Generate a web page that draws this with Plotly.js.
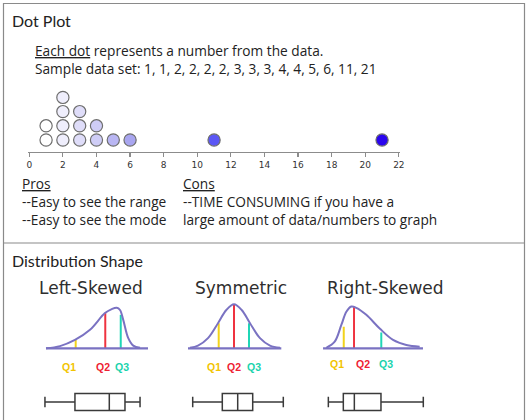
<!DOCTYPE html>
<html>
<head>
<meta charset="utf-8">
<script src="https://cdn.plot.ly/plotly-3.0.1.min.js"></script>
<style>html,body{margin:0;padding:0;background:#fff;}#chart{width:527px;height:420px;}</style>
</head>
<body>
<div id="chart"></div>
<script>
// ---------- Dot plot data ----------
const sampleData = [1, 1, 2, 2, 2, 2, 3, 3, 3, 4, 4, 5, 6, 11, 21];
const dotTickVals = [0, 2, 4, 6, 8, 10, 12, 14, 16, 18, 20, 22];
const dotTickText = ['0', '2', '4', '6', '8', '10', '12', '14', '16', '18', '20', '22'];

// ---------- Distribution shapes (conceptual curves) ----------
const panelNames = ['Left-Skewed', 'Symmetric', 'Right-Skewed'];
const quartileNames = ['Q1', 'Q2', 'Q3'];

const leftCurveX = [1.9, 15.1, 29.2, 43.4, 57.5, 63.9, 68.6, 71.7, 74.8, 79.5, 84.2, 90.6];
const leftCurveY = [0.0, 0.05, 0.19, 0.42, 0.80, 0.89, 0.92, 0.87, 0.64, 0.23, 0.06, 0.01];
const symCurveX = [4, 12, 22, 32, 40.3, 48, 55.7, 64, 74, 84, 94];
const symCurveY = [0.01, 0.06, 0.23, 0.57, 0.87, 1.0, 0.87, 0.57, 0.23, 0.06, 0.01];
const rightCurveX = [4.1, 12.2, 18.6, 23.4, 28.2, 33, 42.6, 55.5, 68.3, 81.1, 93.9];
const rightCurveY = [0.01, 0.15, 0.53, 0.83, 0.95, 0.92, 0.76, 0.45, 0.19, 0.075, 0.036];

const leftBaseline = [1.9, 98.1];
const symBaseline = [2, 95.3];
const rightBaseline = [1, 97.1];

// quartile line positions and heights
const leftQ = [29.9, 57.8, 72.4];
const leftQHeight = [0.19, 0.80, 0.76];
const symQ = [32.7, 48, 63];
const symQHeight = [0.57, 1.0, 0.57];
const rightQ = [20.9, 30.8, 57];
const rightQHeight = [0.49, 0.95, 0.36];

// box plots: [lower whisker, Q1, median, Q3, upper whisker]
const leftBox = [0.9, 29.2, 61.6, 76.4, 90.6];
const symBox = [6.7, 36.3, 51.7, 66.7, 97.3];
const rightBox = [6.1, 20.5, 31.1, 56.7, 97.4];

// ---------- styles / layout helpers ----------
const W = 527, H = 420;
const px = v => v / W;
const py = v => 1 - v / H;
const FONT = '"Open Sans", Lato, sans-serif';
const TITLEFONT = 'Lato, "Open Sans", sans-serif';
const curveColor = '#7a72c2';
const qColors = ['#f2d31b', '#ef3340', '#1fd6b6'];
const qTextColors = ['#f2c400', '#ee2233', '#19d3ad'];

const traces = [];

// Dot plot: stack counts
const counts = {};
const dotX = [], dotY = [];
sampleData.forEach(v => {
  counts[v] = (counts[v] || 0) + 1;
  dotX.push(v);
  dotY.push(counts[v]);
});
traces.push({
  type: 'scatter', mode: 'markers', x: dotX, y: dotY,
  xaxis: 'x', yaxis: 'y', hoverinfo: 'skip',
  marker: {
    size: 12.2, color: dotX, cmin: 1, cmax: 21,
    colorscale: [[0, '#ffffff'], [0.05, '#efeefc'], [0.1, '#dfddf9'], [0.15, '#cfcdf6'],
                 [0.2, '#b9b6f3'], [0.25, '#a9a6f0'], [0.5, '#5b57f5'], [1, '#2a05ee']],
    showscale: false,
    line: {color: '#6e6e6e', width: 1.2}
  }
});

const panels = [
  {cx: leftCurveX, cy: leftCurveY, base: leftBaseline, q: leftQ, qh: leftQHeight, box: leftBox, ax: 'x2'},
  {cx: symCurveX, cy: symCurveY, base: symBaseline, q: symQ, qh: symQHeight, box: symBox, ax: 'x3'},
  {cx: rightCurveX, cy: rightCurveY, base: rightBaseline, q: rightQ, qh: rightQHeight, box: rightBox, ax: 'x4'}
];

const boxY = -1.22;
panels.forEach(p => {
  p.q.forEach((qx, i) => {
    traces.push({type: 'scatter', mode: 'lines', x: [qx, qx], y: [0, p.qh[i]],
      xaxis: p.ax, yaxis: 'y2', hoverinfo: 'skip',
      line: {color: qColors[i], width: 2}});
  });
  traces.push({type: 'scatter', mode: 'lines', x: p.base, y: [0, 0],
    xaxis: p.ax, yaxis: 'y2', hoverinfo: 'skip', line: {color: curveColor, width: 2.2}});
  traces.push({type: 'scatter', mode: 'lines', x: p.cx, y: p.cy,
    xaxis: p.ax, yaxis: 'y2', hoverinfo: 'skip',
    line: {color: curveColor, width: 2, shape: 'spline', smoothing: 1}});
  traces.push({type: 'box', orientation: 'h', xaxis: p.ax, yaxis: 'y2',
    y: [boxY], lowerfence: [p.box[0]], q1: [p.box[1]], median: [p.box[2]],
    q3: [p.box[3]], upperfence: [p.box[4]],
    width: 0.39, whiskerwidth: 0.62, boxpoints: false, hoverinfo: 'skip',
    fillcolor: 'rgba(255,255,255,0)', line: {color: '#3a3a3a', width: 1.5}});
});

// ---------- annotations ----------
const ann = [];
function txt(text, x, y, size, family) {
  ann.push({text: text, x: px(x), y: py(y), xref: 'paper', yref: 'paper',
    xanchor: 'left', yanchor: 'middle', align: 'left', showarrow: false,
    borderpad: 0, borderwidth: 0,
    font: {family: family || FONT, size: size, color: '#222'}});
}
const BODY = 13.7;
txt('Dot Plot', 12, 20.5, 16, TITLEFONT);
txt('<u>Each dot</u> represents a number from the data.<br>' +
    'Sample data set: ' + sampleData.join(', '), 35, 60, BODY);
txt('<u>Pros</u><br>--Easy to see the range<br>--Easy to see the mode', 21.5, 201.8, BODY);
txt('<u>Cons</u><br>--TIME CONSUMING if you have a<br>large amount of data/numbers to graph', 182.5, 201.8, BODY);
txt('Distribution Shape', 12, 260.7, 16, TITLEFONT);

const titleCenters = [90.8, 241, 385];
panelNames.forEach((n, i) => {
  ann.push({text: n, x: px(titleCenters[i]), y: py(287.5), xref: 'paper', yref: 'paper',
    xanchor: 'center', yanchor: 'middle', showarrow: false,
    font: {family: 'DejaVu Sans, sans-serif', size: 17, color: '#2e2e2e'}});
});

const qLabelX = [[23.9, 55.9, 73.9], [28.3, 48.3, 68], [14.1, 39.7, 61.5]];
const qLabelY = [-0.43, -0.43, -0.36];
const axNames = ['x2', 'x3', 'x4'];
qLabelX.forEach((row, pi) => {
  row.forEach((x, i) => {
    ann.push({text: '<b>' + quartileNames[i] + '</b>', x: x, y: qLabelY[pi],
      xref: axNames[pi], yref: 'y2', xanchor: 'center', yanchor: 'middle', showarrow: false,
      font: {family: 'Liberation Sans, Arial, sans-serif', size: 10.5, color: qTextColors[i]}});
  });
});

// ---------- layout ----------
const hidden = {visible: false, showgrid: false, zeroline: false, fixedrange: true};
const layout = {
  width: W, height: H,
  margin: {l: 0, r: 0, t: 0, b: 0},
  paper_bgcolor: '#ffffff', plot_bgcolor: 'rgba(0,0,0,0)',
  showlegend: false,
  xaxis: {domain: [px(27.6), px(399.7)], range: [-0.1, 22.05], anchor: 'y',
    showline: true, linecolor: '#8c8c8c', linewidth: 1.5,
    ticks: 'outside', ticklen: 4, tickwidth: 1.2, tickcolor: '#8c8c8c',
    tickvals: dotTickVals, ticktext: dotTickText,
    tickfont: {family: 'DejaVu Sans, sans-serif', size: 9, color: '#333'},
    showgrid: false, zeroline: false, fixedrange: true},
  yaxis: Object.assign({domain: [py(151.5), py(83.2)], range: [0.19, 5], anchor: 'x'}, hidden),
  xaxis2: Object.assign({domain: [px(44), px(150)], range: [0, 100], anchor: 'y2'}, hidden),
  xaxis3: Object.assign({domain: [px(186), px(286)], range: [0, 100], anchor: 'y2'}, hidden),
  xaxis4: Object.assign({domain: [px(322), px(426)], range: [0, 100], anchor: 'y2'}, hidden),
  yaxis2: Object.assign({domain: [py(418), py(290)], range: [-1.584, 1.325], anchor: 'x2'}, hidden),
  annotations: ann,
  shapes: [
    {type: 'rect', xref: 'paper', yref: 'paper', x0: px(3.5), x1: px(524.5), y0: py(425), y1: py(3.5),
     line: {color: '#8a8a8a', width: 1.2}},
    {type: 'line', xref: 'paper', yref: 'paper', x0: px(3.5), x1: px(524.5), y0: py(243), y1: py(243),
     line: {color: '#8a8a8a', width: 1.2}}
  ]
};

Plotly.newPlot('chart', traces, layout, {staticPlot: true, displayModeBar: false});
</script>
</body>
</html>
